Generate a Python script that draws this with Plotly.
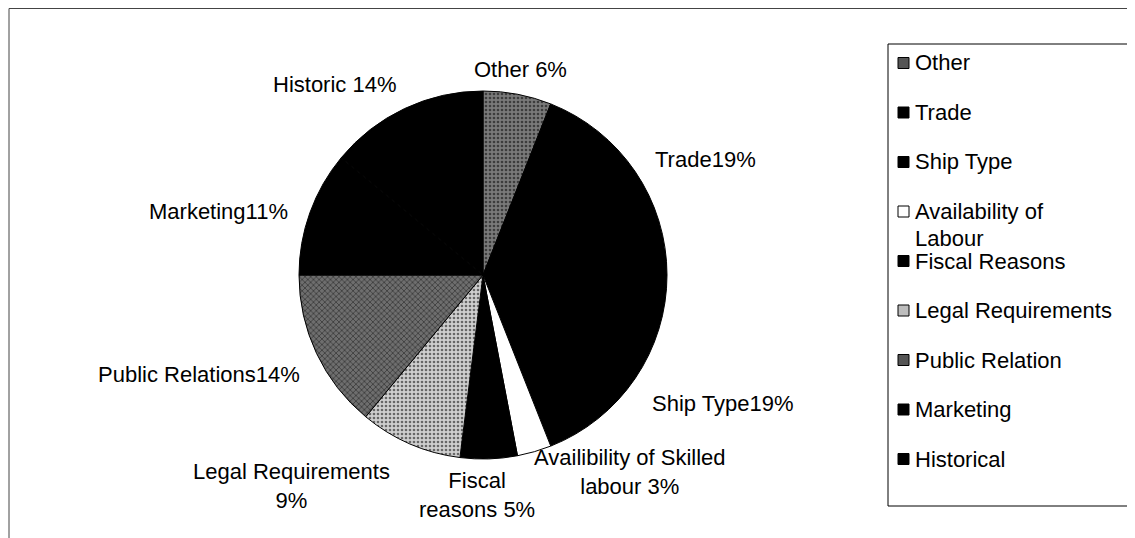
import math
import plotly.graph_objects as go

W, H = 1127, 530     # figure size (page adds an 8px body margin)
OFF = 8

# ---- data ----
categories = ["Other", "Trade", "Ship Type", "Availability of Labour", "Fiscal Reasons",
              "Legal Requirements", "Public Relation", "Marketing", "Historical"]
shares = [6, 19, 19, 3, 5, 9, 14, 11, 14]
slice_labels = ["Other", "Trade", "Ship Type", "Availibility of Skilled<br>labour",
                "Fiscal<br>reasons", "Legal Requirements<br>", "Public Relations",
                "Marketing", "Historic"]
label_sep = [" ", "", "", " ", " ", "", "", "", " "]
legend_labels = ["Other", "Trade", "Ship Type", "Availability of<br>Labour", "Fiscal Reasons",
                 "Legal Requirements", "Public Relation", "Marketing", "Historical"]

# ---- styles ----
fills = ["#7a7a7a", "#000000", "#000000", "#ffffff", "#000000",
         "#cfcfcf", "#6e6e6e", "#000000", "#000000"]
pattern_shapes = [".", "", "", "", "", ".", "x", "", ""]
swatch_fills = ["#555555", "#000000", "#000000", "#ffffff", "#000000",
                "#bdbdbd", "#555555", "#000000", "#000000"]
# label placement style: radial distance (px), anchors, small shifts
label_radius = [201, 205, 202, 175, 191, 198, 200, 205, 199]
label_xanchor = ["center", "left", "left", "left", "center", "right", "right", "right", "right"]
label_yanchor = ["bottom", "middle", "top", "top", "top", "top", "top", "middle", "bottom"]
label_xshift = [0, 0, 0, 0, -12, -12, 0, 0, 0]
label_yshift = [-6, 0, 0, 0, 0, 0, 0, -6, -4]

FONT = "Liberation Sans, Arial, sans-serif"
CX, CY, R = 483, 275, 184   # pie centre / radius in screen pixels


def px_x(x):
    return (x - OFF) / W


def px_y(y):
    return 1 - (y - OFF) / H


texts = [f"{l}{s}{v}%" for l, s, v in zip(slice_labels, label_sep, shares)]

fig = go.Figure()
fig.add_trace(go.Pie(
    labels=categories,
    values=shares,
    textinfo="none",
    sort=False,
    direction="clockwise",
    rotation=0,
    showlegend=False,
    hoverinfo="label+percent",
    marker=dict(
        colors=fills,
        line=dict(color="#000000", width=1),
        pattern=dict(shape=pattern_shapes, fgcolor="#000000", size=4, solidity=0.35,
                     fillmode="overlay"),
    ),
    domain=dict(x=[px_x(CX - R), px_x(CX + R)], y=[px_y(CY + R), px_y(CY - R)]),
))

annotations = []
# data labels, placed along each slice's mid angle (derived from the shares)
total = sum(shares)
cum = 0
for i, v in enumerate(shares):
    mid = (cum + v / 2) / total * 2 * math.pi
    cum += v
    r = label_radius[i]
    x = CX + r * math.sin(mid)
    y = CY - r * math.cos(mid)
    annotations.append(dict(text=texts[i], xref="paper", yref="paper", x=px_x(x), y=px_y(y),
                            xanchor=label_xanchor[i], yanchor=label_yanchor[i],
                            xshift=label_xshift[i], yshift=label_yshift[i],
                            showarrow=False, align="center",
                            font=dict(family=FONT, size=22, color="#000000")))

shapes = [
    # outer chart frame (top and left edges)
    dict(type="line", xref="paper", yref="paper", x0=px_x(9), x1=1, y0=px_y(8.5), y1=px_y(8.5),
         line=dict(color="#444444", width=1)),
    dict(type="line", xref="paper", yref="paper", x0=px_x(9), x1=px_x(9), y0=px_y(8.5), y1=0,
         line=dict(color="#444444", width=1)),
    # legend box
    dict(type="rect", xref="paper", yref="paper", x0=px_x(888), x1=px_x(1128),
         y0=px_y(506), y1=px_y(44), line=dict(color="#000000", width=1),
         fillcolor="rgba(0,0,0,0)"),
]
for i, (name, col) in enumerate(zip(legend_labels, swatch_fills)):
    yc = 63 + 49.5 * i
    shapes.append(dict(type="rect", xref="paper", yref="paper",
                       x0=px_x(898), x1=px_x(909), y0=px_y(yc + 5.5), y1=px_y(yc - 5.5),
                       line=dict(color="#000000", width=1), fillcolor=col))
    for k, line in enumerate(name.split("<br>")):
        annotations.append(dict(text=line, xref="paper", yref="paper", x=px_x(913),
                                y=px_y(yc + 27 * k), xanchor="left", yanchor="middle",
                                showarrow=False, align="left",
                                font=dict(family=FONT, size=22, color="#000000")))

fig.update_layout(
    width=W, height=H,
    margin=dict(l=0, r=0, t=0, b=0),
    paper_bgcolor="#ffffff",
    plot_bgcolor="#ffffff",
    shapes=shapes,
    annotations=annotations,
)

fig.write_html("out.html")
